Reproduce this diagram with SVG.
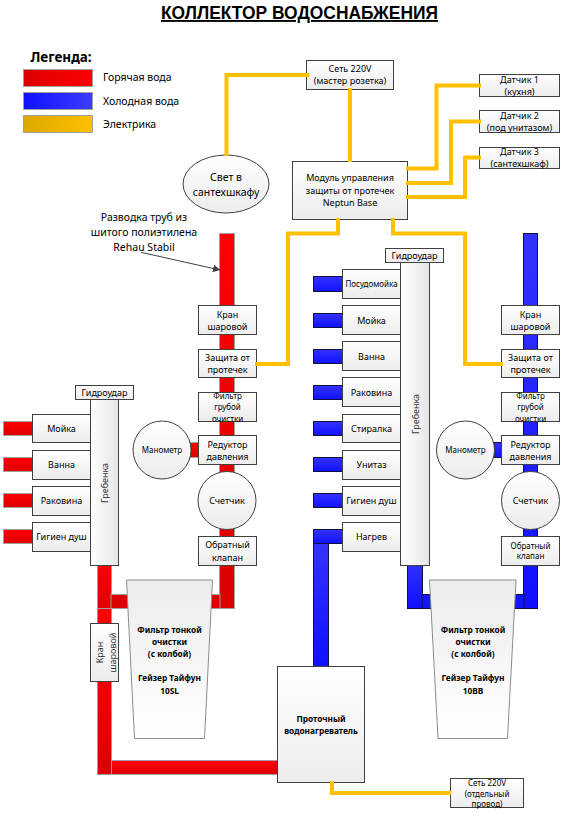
<svg xmlns="http://www.w3.org/2000/svg" width="573" height="813" viewBox="0 0 573 813">
<defs>
<linearGradient id="nodeFill" x1="0" y1="0" x2="0" y2="1"><stop offset="0" stop-color="#ffffff"/><stop offset="1" stop-color="#ececec"/></linearGradient>
<linearGradient id="combFill" x1="0" y1="0" x2="1" y2="0"><stop offset="0" stop-color="#ffffff"/><stop offset="1" stop-color="#e6e6e6"/></linearGradient>
<linearGradient id="filterFill" x1="0" y1="0" x2="0" y2="1"><stop offset="0" stop-color="#ececec"/><stop offset="1" stop-color="#ffffff"/></linearGradient>
<linearGradient id="hotV" x1="0" y1="0" x2="0" y2="1"><stop offset="0" stop-color="#ff0000"/><stop offset="1" stop-color="#dc0000"/></linearGradient>
<linearGradient id="coldV" x1="0" y1="0" x2="0" y2="1"><stop offset="0" stop-color="#3333ff"/><stop offset="1" stop-color="#1010ff"/></linearGradient>
<linearGradient id="hotH" x1="0" y1="0" x2="1" y2="0"><stop offset="0" stop-color="#dc0000"/><stop offset="1" stop-color="#ff0000"/></linearGradient>
<linearGradient id="coldH" x1="0" y1="0" x2="1" y2="0"><stop offset="0" stop-color="#1010ff"/><stop offset="1" stop-color="#3c3cff"/></linearGradient>
<linearGradient id="elecH" x1="0" y1="0" x2="1" y2="0"><stop offset="0" stop-color="#dca800"/><stop offset="1" stop-color="#ffc000"/></linearGradient>
<marker id="arrow" markerWidth="8" markerHeight="8" refX="7" refY="4" orient="auto" markerUnits="userSpaceOnUse"><path d="M0,0 L7,4 L0,8 Z" fill="#404040"/></marker>
</defs>
<style>
text{font-family:"Noto Sans","Liberation Sans",sans-serif;font-size:10.5px;fill:#000;text-anchor:middle}
.box{fill:url(#nodeFill);stroke:#404040;stroke-width:1}
.comb{fill:url(#combFill);stroke:#404040;stroke-width:1}
.filter{fill:url(#filterFill);stroke:#8c8c8c;stroke-width:1}
.hot{fill:url(#hotV);stroke:#a0a0a0;stroke-width:1}
.cold{fill:url(#coldV);stroke:#101040;stroke-width:1}
.hotd{fill:#dc0000;stroke:#a0a0a0;stroke-width:1}
.coldd{fill:#1414ff;stroke:#101040;stroke-width:1}
.wire{fill:none;stroke:#ffc000;stroke-width:4}
.lg{text-anchor:start}
.s9{font-size:9px}
.s8{font-size:8px}
.b{font-weight:bold;font-size:8.300px}
.rot{fill:#333333}
</style>
<rect width="573" height="813" fill="#ffffff"/>
<g id="title"><text x="299.500" y="19" style="font-family:'Liberation Sans',sans-serif;font-size:19px;font-weight:bold;text-decoration:underline" textLength="277" lengthAdjust="spacingAndGlyphs">КОЛЛЕКТОР ВОДОСНАБЖЕНИЯ</text></g>
<g id="legend">
<text x="61" y="62" class="b" style="font-size:13.500px">Легенда:</text>
<rect x="23.500" y="69.500" width="69" height="17" fill="url(#hotH)" stroke="#a0a0a0"/>
<rect x="23.500" y="92.500" width="69" height="17" fill="url(#coldH)" stroke="#a0a0a0"/>
<rect x="23.500" y="115.500" width="69" height="17" fill="url(#elecH)" stroke="#a0a0a0"/>
<text x="103" y="81" class="lg">Горячая вода</text>
<text x="103" y="105" class="lg">Холодная вода</text>
<text x="103" y="128" class="lg">Электрика</text>
</g>
<g id="connectors-pipes">
<rect class="hot" x="219.500" y="233.500" width="15" height="375"/>
<rect class="hotd" x="205" y="594.500" width="15" height="14"/>
<rect class="hot" x="190" y="442.500" width="9" height="15"/>
<rect class="hot" x="97.500" y="560" width="14" height="48.500"/>
<rect class="hotd" x="111" y="594.500" width="18" height="14"/>
<rect class="hot" x="97.500" y="608.500" width="14" height="166"/>
<rect class="hot" x="111.500" y="760.500" width="167" height="14"/>
<rect class="hot" x="3.500" y="421.500" width="29" height="14"/>
<rect class="hot" x="3.500" y="457.500" width="29" height="14"/>
<rect class="hot" x="3.500" y="493.500" width="29" height="14"/>
<rect class="hot" x="3.500" y="529.500" width="29" height="14"/>
<rect class="cold" x="523.500" y="233.500" width="14" height="375"/>
<rect class="coldd" x="510" y="594.500" width="14" height="14"/>
<rect class="cold" x="494" y="442.500" width="9" height="15"/>
<rect class="cold" x="407.500" y="560" width="15" height="48.500"/>
<rect class="coldd" x="422" y="594.500" width="12" height="14"/>
<rect class="cold" x="313.500" y="276.500" width="29" height="15"/>
<rect class="cold" x="313.500" y="313.500" width="29" height="14"/>
<rect class="cold" x="313.500" y="349.500" width="29" height="14"/>
<rect class="cold" x="313.500" y="385.500" width="29" height="14"/>
<rect class="cold" x="313.500" y="421.500" width="29" height="14"/>
<rect class="cold" x="313.500" y="457.500" width="29" height="14"/>
<rect class="cold" x="313.500" y="493.500" width="29" height="14"/>
<rect class="cold" x="313.500" y="529.500" width="29" height="14"/>
<rect class="cold" x="313.500" y="543.500" width="15" height="124"/>
</g>
<g id="light"><ellipse class="box" cx="226" cy="184" rx="43" ry="29"/><text x="226" y="181">Свет в</text><text x="226" y="196">сантехшкафу</text></g>
<g id="mains"><rect class="box" x="306.500" y="60.500" width="87" height="29"/><text x="350" y="72" class="s9">Сеть 220V</text><text x="350" y="84" class="s9">(мастер розетка)</text></g>
<g id="module"><rect class="box" x="292.500" y="161.500" width="115" height="58"/><text x="350" y="181" class="s9">Модуль управления</text><text x="350" y="194" class="s9">защиты от протечек</text><text x="350" y="206" class="s9">Neptun Base</text></g>
<g id="sensor1"><rect class="box" x="479.500" y="74.500" width="80" height="22"/><text x="519.500" y="83" class="s9">Датчик 1</text><text x="519.500" y="95" class="s9">(кухня)</text></g>
<g id="sensor2"><rect class="box" x="479.500" y="110.500" width="80" height="22"/><text x="519.500" y="119" class="s9">Датчик 2</text><text x="519.500" y="131" class="s9">(под унитазом)</text></g>
<g id="sensor3"><rect class="box" x="479.500" y="147.500" width="80" height="21"/><text x="519.500" y="155" class="s9">Датчик 3</text><text x="519.500" y="167" class="s9">(сантехшкаф)</text></g>
<g id="annotation"><text x="144" y="221">Разводка труб из</text><text x="144" y="236">шитого полиэтилена</text><text x="144" y="251">Rehau Stabil</text></g>
<g id="hot-valve"><rect class="box" x="198.500" y="305.500" width="58" height="29"/><text x="227.500" y="318" class="s9">Кран</text><text x="227.500" y="330" class="s9">шаровой</text></g>
<g id="hot-protect"><rect class="box" x="198.500" y="349.500" width="58" height="28"/><text x="227.500" y="361" class="s9">Защита от</text><text x="227.500" y="373" class="s9">протечек</text></g>
<g id="hot-coarse"><rect class="box" x="198.500" y="392.500" width="58" height="29"/><text x="227.500" y="399" class="s8">Фильтр</text><text x="227.500" y="410" class="s8">грубой</text><text x="227.500" y="422" class="s8">очистки</text></g>
<g id="hot-reducer"><rect class="box" x="198.500" y="435.500" width="58" height="29"/><text x="227.500" y="448" class="s9">Редуктор</text><text x="227.500" y="460" class="s9">давления</text></g>
<g id="hot-gauge"><circle class="box" cx="162" cy="450" r="29"/><text x="162" y="453" class="s8">Манометр</text></g>
<g id="hot-meter"><circle class="box" cx="227" cy="500.500" r="29"/><text x="227" y="504" class="s9">Счетчик</text></g>
<g id="hot-check"><rect class="box" x="198.500" y="536.500" width="58" height="29"/><text x="227.500" y="547.500" class="s9">Обратный</text><text x="227.500" y="561" class="s9">клапан</text></g>
<g id="hot-hammer"><rect class="box" x="75.500" y="385.500" width="58" height="14"/><text x="104.500" y="396" class="s9">Гидроудар</text></g>
<g id="hot-o1"><rect class="box" x="32.500" y="414.500" width="58" height="28"/><text x="61.500" y="432" class="s9">Мойка</text></g>
<g id="hot-o2"><rect class="box" x="32.500" y="450.500" width="58" height="29"/><text x="61.500" y="468" class="s9">Ванна</text></g>
<g id="hot-o3"><rect class="box" x="32.500" y="486.500" width="58" height="29"/><text x="61.500" y="504" class="s9">Раковина</text></g>
<g id="hot-o4"><rect class="box" x="32.500" y="522.500" width="58" height="29"/><text x="61.500" y="540" class="s9">Гигиен душ</text></g>
<g id="hot-comb"><rect class="comb" x="90.500" y="399.500" width="28" height="166"/><text transform="translate(108,483) rotate(-90)" class="s9 rot">Гребенка</text></g>
<g id="hot-fine"><path class="filter" d="M126.500,580H212.500L204.500,738.500H134.500Z"/><text x="169.500" y="633" class="b">Фильтр тонкой</text><text x="169.500" y="645" class="b">очистки</text><text x="169.500" y="657" class="b">(с колбой)</text><text x="169.500" y="681" class="b">Гейзер Тайфун</text><text x="169.500" y="694" class="b">10SL</text></g>
<g id="hot-valve2"><rect class="box" x="90.500" y="623.500" width="28" height="58"/><text transform="translate(102.500,652.500) rotate(-90)" class="s9 rot">Кран</text><text transform="translate(115.500,652.500) rotate(-90)" class="s9 rot">шаровой</text></g>
<g id="heater"><rect class="box" x="277.500" y="666.500" width="87" height="116"/><text x="321" y="722" class="b">Проточный</text><text x="321" y="734" class="b">водонагреватель</text></g>
<g id="cold-hammer"><rect class="box" x="385.500" y="248.500" width="58" height="14"/><text x="414.500" y="259" class="s9">Гидроудар</text></g>
<g id="cold-o1"><rect class="box" x="342.500" y="269.500" width="58" height="29"/><text x="371.500" y="287" class="s8">Посудомойка</text></g>
<g id="cold-o2"><rect class="box" x="342.500" y="305.500" width="58" height="29"/><text x="371.500" y="324" class="s9">Мойка</text></g>
<g id="cold-o3"><rect class="box" x="342.500" y="341.500" width="58" height="29"/><text x="371.500" y="360" class="s9">Ванна</text></g>
<g id="cold-o4"><rect class="box" x="342.500" y="377.500" width="58" height="29"/><text x="371.500" y="396" class="s9">Раковина</text></g>
<g id="cold-o5"><rect class="box" x="342.500" y="414.500" width="58" height="28"/><text x="371.500" y="432" class="s9">Стиралка</text></g>
<g id="cold-o6"><rect class="box" x="342.500" y="450.500" width="58" height="29"/><text x="371.500" y="468" class="s9">Унитаз</text></g>
<g id="cold-o7"><rect class="box" x="342.500" y="486.500" width="58" height="29"/><text x="371.500" y="504" class="s9">Гигиен душ</text></g>
<g id="cold-o8"><rect class="box" x="342.500" y="522.500" width="58" height="29"/><text x="371.500" y="540" class="s9">Нагрев</text></g>
<g id="cold-comb"><rect class="comb" x="400.500" y="262.500" width="29" height="303"/><text transform="translate(419,414) rotate(-90)" class="s9 rot">Гребенка</text></g>
<g id="cold-valve"><rect class="box" x="501.500" y="305.500" width="58" height="29"/><text x="530.500" y="318" class="s9">Кран</text><text x="530.500" y="330" class="s9">шаровой</text></g>
<g id="cold-protect"><rect class="box" x="501.500" y="349.500" width="58" height="28"/><text x="530.500" y="361" class="s9">Защита от</text><text x="530.500" y="373" class="s9">протечек</text></g>
<g id="cold-coarse"><rect class="box" x="501.500" y="392.500" width="58" height="29"/><text x="530.500" y="399" class="s8">Фильтр</text><text x="530.500" y="410" class="s8">грубой</text><text x="530.500" y="422" class="s8">очистки</text></g>
<g id="cold-reducer"><rect class="box" x="501.500" y="435.500" width="58" height="29"/><text x="530.500" y="448" class="s9">Редуктор</text><text x="530.500" y="460" class="s9">давления</text></g>
<g id="cold-gauge"><circle class="box" cx="465.500" cy="450" r="29"/><text x="465.500" y="453" class="s8">Манометр</text></g>
<g id="cold-meter"><circle class="box" cx="530.500" cy="500.500" r="29"/><text x="530.500" y="504" class="s9">Счетчик</text></g>
<g id="cold-check"><rect class="box" x="501.500" y="536.500" width="58" height="29"/><text x="530.500" y="549" class="s8">Обратный</text><text x="530.500" y="559" class="s8">клапан</text></g>
<g id="cold-fine"><path class="filter" d="M429.500,580H516L507.500,738.500H438Z"/><text x="473" y="633" class="b">Фильтр тонкой</text><text x="473" y="645" class="b">очистки</text><text x="473" y="657" class="b">(с колбой)</text><text x="473" y="681" class="b">Гейзер Тайфун</text><text x="473" y="694" class="b">10ВВ</text></g>
<g id="mains2"><rect class="box" x="450.500" y="778.500" width="73" height="29"/><text x="487" y="786" class="s8">Сеть 220V</text><text x="487" y="797" class="s8">(отдельный</text><text x="487" y="807" class="s8">провод)</text></g>
<g id="connectors-wires">
<path class="wire" d="M226.500,156V75H309"/>
<path class="wire" d="M350,88V162"/>
<path class="wire" d="M406,168.500H436.500V85.500H481"/>
<path class="wire" d="M406,183H451V121.500H481"/>
<path class="wire" d="M406,197H465V157.500H481"/>
<path class="wire" d="M338,218V233.500H288V364H255"/>
<path class="wire" d="M393,218V233.500H465V364H503"/>
<path class="wire" d="M332,781V793H451"/>
<path d="M141,252.300L220,270" fill="none" stroke="#404040" stroke-width="1" marker-end="url(#arrow)"/>
</g>
</svg>
